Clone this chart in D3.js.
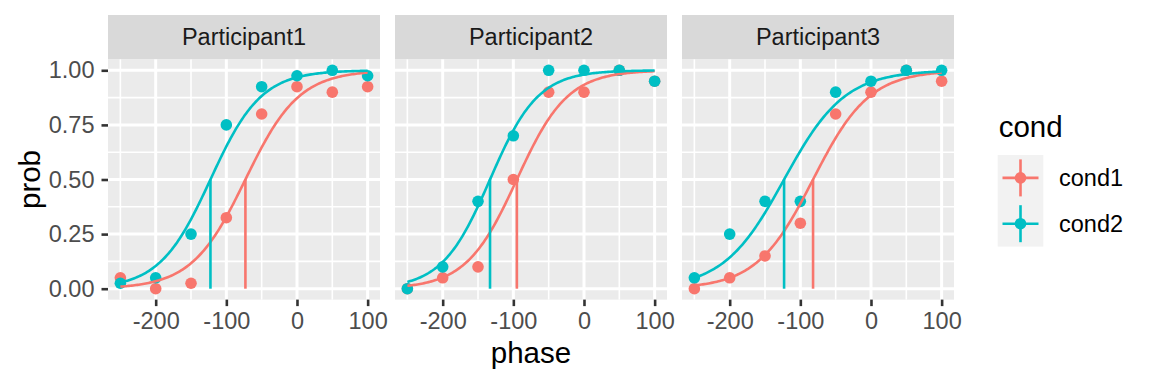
<!DOCTYPE html>
<html>
<head>
<meta charset="utf-8">
<script src="https://cdn.jsdelivr.net/npm/d3@7"></script>
<style>
  body { margin: 0; background: #fff; }
  svg { display: block; font-family: "Liberation Sans", Arial, sans-serif; }
</style>
</head>
<body>
<svg id="chart" width="1152" height="384"></svg>
<script>
const participants = ['Participant1', 'Participant2', 'Participant3'];
const conds = ['cond1', 'cond2'];
const phases = [-250, -200, -150, -100, -50, 0, 50, 100];

// observed proportions, one row per participant
const probCond1 = [
	[0.05, 0.00, 0.025, 0.325, 0.80, 0.925, 0.90, 0.925],
	[0.00, 0.05, 0.10, 0.50, 0.90, 0.90, 1.00, 0.95],
	[0.00, 0.05, 0.15, 0.30, 0.80, 0.90, 1.00, 0.95]
];
const probCond2 = [
	[0.025, 0.05, 0.25, 0.75, 0.925, 0.975, 1.00, 0.975],
	[0.00, 0.10, 0.40, 0.70, 1.00, 1.00, 1.00, 0.95],
	[0.05, 0.25, 0.40, 0.40, 0.90, 0.95, 1.00, 1.00]
];

// fitted logistic curves: 50% point and scale
const thresholdCond1 = [-73, -95, -82];
const thresholdCond2 = [-122.5, -133, -123];
const scaleCond1 = [38, 36, 40];
const scaleCond2 = [36, 34, 43];

const xTicks = [-200, -100, 0, 100];
const xMinor = [-250, -150, -50, 50];
const yTicks = [0, 0.25, 0.5, 0.75, 1];
const yMinor = [0.125, 0.375, 0.625, 0.875];

const colors = { cond1: '#F8766D', cond2: '#00BFC4' };

const panelLeft = [108, 395, 682];
const panelW = 272;
const stripTop = 15, stripH = 44.4;

const svg = d3.select('#chart');

const x = d3.scaleLinear().domain([-267.5, 117.5]).range([0, panelW]);
const y = d3.scaleLinear().domain([0, 1]).range([288.7, 70.3]);
const panelTop = y(1.05), panelBottom = y(-0.05);

const logistic = (m, s) => (v) => 1 / (1 + Math.exp(-(v - m) / s));
const curveX = d3.range(-250, 100.1, 2);

const line = d3.line().x((d) => x(d[0])).y((d) => y(d[1]));

participants.forEach((name, i) => {
	const g = svg.append('g').attr('transform', `translate(${panelLeft[i]},0)`);

	// strip
	g.append('rect')
		.attr('x', 0).attr('y', stripTop)
		.attr('width', panelW).attr('height', stripH)
		.attr('fill', '#D9D9D9');
	g.append('text')
		.attr('x', panelW / 2).attr('y', stripTop + stripH / 2)
		.attr('dy', '0.35em')
		.attr('text-anchor', 'middle')
		.attr('font-size', 23.5)
		.attr('fill', '#1A1A1A')
		.text(name);

	// panel background + grid
	g.append('rect')
		.attr('x', 0).attr('y', panelTop)
		.attr('width', panelW).attr('height', panelBottom - panelTop)
		.attr('fill', '#EBEBEB');

	g.selectAll('line.xminor').data(xMinor).enter().append('line')
		.attr('x1', (d) => x(d)).attr('x2', (d) => x(d))
		.attr('y1', panelTop).attr('y2', panelBottom)
		.attr('stroke', '#fff').attr('stroke-width', 1.6);
	g.selectAll('line.yminor').data(yMinor).enter().append('line')
		.attr('x1', 0).attr('x2', panelW)
		.attr('y1', (d) => y(d)).attr('y2', (d) => y(d))
		.attr('stroke', '#fff').attr('stroke-width', 1.6);
	g.selectAll('line.xmajor').data(xTicks).enter().append('line')
		.attr('x1', (d) => x(d)).attr('x2', (d) => x(d))
		.attr('y1', panelTop).attr('y2', panelBottom)
		.attr('stroke', '#fff').attr('stroke-width', 3);
	g.selectAll('line.ymajor').data(yTicks).enter().append('line')
		.attr('x1', 0).attr('x2', panelW)
		.attr('y1', (d) => y(d)).attr('y2', (d) => y(d))
		.attr('stroke', '#fff').attr('stroke-width', 3);

	// x axis
	const xAxis = g.append('g')
		.attr('transform', `translate(0,${panelBottom})`)
		.call(d3.axisBottom(x).tickValues(xTicks).tickSize(6.5).tickPadding(6).tickFormat(d3.format('d')));
	xAxis.select('.domain').remove();
	xAxis.selectAll('line').attr('stroke', '#333').attr('stroke-width', 2.6);
	xAxis.selectAll('text')
		.attr('font-size', 23.5)
		.attr('fill', '#4D4D4D')
		.attr('font-family', '"Liberation Sans", Arial, sans-serif')
		.text((d) => (d < 0 ? '-' + Math.abs(d) : d));

	// y axis only on first panel
	if (i === 0) {
		const yAxis = g.append('g')
			.call(d3.axisLeft(y).tickValues(yTicks).tickSize(6.5).tickPadding(7).tickFormat(d3.format('.2f')));
		yAxis.select('.domain').remove();
		yAxis.selectAll('line').attr('stroke', '#333').attr('stroke-width', 2.6);
		yAxis.selectAll('text')
			.attr('font-size', 23.5)
			.attr('fill', '#4D4D4D')
			.attr('font-family', '"Liberation Sans", Arial, sans-serif');
	}

	const series = [
		{ cond: 'cond1', probs: probCond1[i], m: thresholdCond1[i], s: scaleCond1[i] },
		{ cond: 'cond2', probs: probCond2[i], m: thresholdCond2[i], s: scaleCond2[i] }
	];

	// points
	series.forEach((sr) => {
		g.selectAll(null).data(phases.map((p, k) => [p, sr.probs[k]])).enter()
			.append('circle')
			.attr('cx', (d) => x(d[0])).attr('cy', (d) => y(d[1]))
			.attr('r', 5.8)
			.attr('fill', colors[sr.cond]);
	});

	// fitted curves
	series.forEach((sr) => {
		const f = logistic(sr.m, sr.s);
		g.append('path')
			.datum(curveX.map((v) => [v, f(v)]))
			.attr('d', line)
			.attr('fill', 'none')
			.attr('stroke', colors[sr.cond])
			.attr('stroke-width', 2.6);
	});

	// threshold segments
	series.forEach((sr) => {
		g.append('line')
			.attr('x1', x(sr.m)).attr('x2', x(sr.m))
			.attr('y1', y(0)).attr('y2', y(0.5))
			.attr('stroke', colors[sr.cond])
			.attr('stroke-width', 2.6);
	});
});

// axis titles
svg.append('text')
	.attr('x', panelLeft[1] + panelW / 2).attr('y', 362.5)
	.attr('text-anchor', 'middle')
	.attr('font-size', 29.5)
	.text('phase');
svg.append('text')
	.attr('transform', `translate(40,${(panelTop + panelBottom) / 2}) rotate(-90)`)
	.attr('text-anchor', 'middle')
	.attr('font-size', 29.5)
	.text('prob');

// legend
const legend = svg.append('g').attr('transform', 'translate(997.7,155)');
legend.append('text')
	.attr('x', 1).attr('y', -18.5)
	.attr('font-size', 29.5)
	.text('cond');
legend.append('rect')
	.attr('width', 45.6).attr('height', 91.6)
	.attr('fill', '#F2F2F2');
const keys = legend.selectAll('g.key').data(conds).enter().append('g')
	.attr('transform', (d, k) => `translate(22.8,${22.9 + k * 45.8})`);
keys.append('line')
	.attr('x1', -18).attr('x2', 18)
	.attr('stroke', (d) => colors[d]).attr('stroke-width', 2.6);
keys.append('line')
	.attr('y1', -18.5).attr('y2', 18.5)
	.attr('stroke', (d) => colors[d]).attr('stroke-width', 2.6);
keys.append('circle')
	.attr('r', 5.8)
	.attr('fill', (d) => colors[d]);
keys.append('text')
	.attr('x', 38.5).attr('dy', '0.35em')
	.attr('font-size', 23.5)
	.text((d) => d);
</script>
</body>
</html>
